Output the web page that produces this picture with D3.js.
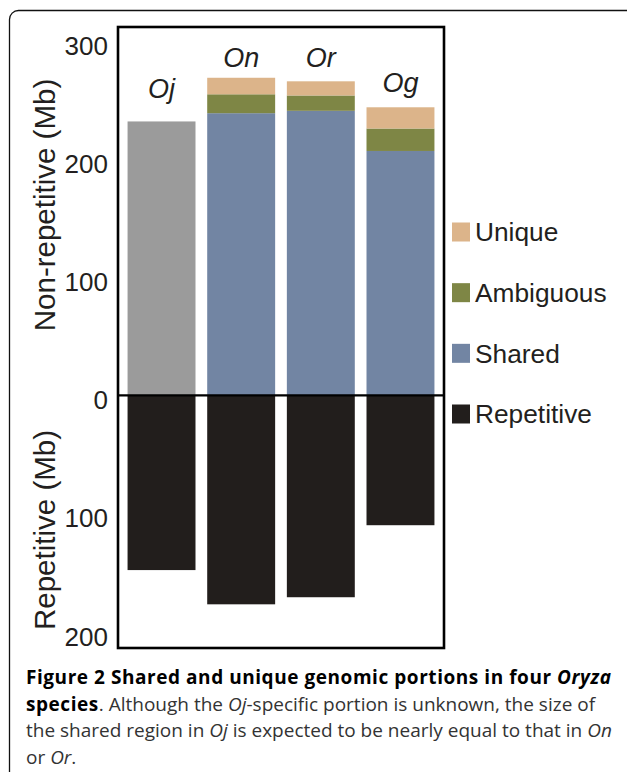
<!DOCTYPE html>
<html>
<head>
<meta charset="utf-8">
<script src="https://cdn.jsdelivr.net/npm/d3@7"></script>
<style>
  body { margin: 0; background: #fff; }
  svg { display: block; }
</style>
</head>
<body>
<div id="chart"></div>
<script>
// values (Mb)
const species = ["Oj", "On", "Or", "Og"];
const shared = [232, 239, 241, 207];      // Oj: total non-repetitive, split unknown
const ambiguous = [0, 16, 13, 19];
const unique = [0, 14, 12, 18];
const repetitive = [148, 177, 171, 110];
const labelAt = [252, 278, 278, 257];    // height of species label baseline
const upperTicks = [0, 100, 200, 300];
const lowerTicks = [100, 200];
const legendItems = ["Unique", "Ambiguous", "Shared", "Repetitive"];

const colors = {
    Unique: "#dcb48a",
    Ambiguous: "#7e8645",
    Shared: "#7285a3",
    Repetitive: "#221e1c",
    Unknown: "#9b9b9b"
};

const W = 627, H = 772;
const frame = { left: 118, right: 444, top: 27, bottom: 648 };

const svg = d3.select("#chart")
    .append("svg")
    .attr("width", W)
    .attr("height", H);

// outer figure border (rounded, runs off right/bottom)
svg.append("rect")
    .attr("x", 9.5).attr("y", 10.5)
    .attr("width", 640).attr("height", 800)
    .attr("rx", 9)
    .attr("fill", "none")
    .attr("stroke", "#111")
    .attr("stroke-width", 1.3);

const x = d3.scaleBand()
    .domain(species)
    .range([frame.left, frame.right])
    .paddingInner(0.147)
    .paddingOuter(0.12);

// one scale: positive up = non-repetitive, negative down = repetitive
const y = d3.scaleLinear()
    .domain([-214, 312])
    .range([frame.bottom, frame.top]);

const rows = species.map((s, i) => ({
    name: s,
    layers: [
        { key: i === 0 ? "Unknown" : "Shared", y0: 0, y1: shared[i] },
        { key: "Ambiguous", y0: shared[i], y1: shared[i] + ambiguous[i] },
        { key: "Unique", y0: shared[i] + ambiguous[i], y1: shared[i] + ambiguous[i] + unique[i] },
        { key: "Repetitive", y0: -repetitive[i], y1: 0 }
    ].filter(l => l.y1 > l.y0),
    label: labelAt[i]
}));

const groups = svg.selectAll(".bar")
    .data(rows)
    .join("g")
    .attr("class", "bar");

groups.selectAll("rect")
    .data(d => d.layers.map(l => ({ ...l, name: d.name })))
    .join("rect")
    .attr("x", d => x(d.name))
    .attr("width", x.bandwidth())
    .attr("y", d => y(d.y1))
    .attr("height", d => y(d.y0) - y(d.y1))
    .attr("fill", d => colors[d.key]);

// species labels
groups.append("text")
    .attr("x", d => x(d.name) + x.bandwidth() / 2)
    .attr("y", d => y(d.label))
    .attr("text-anchor", "middle")
    .attr("font-family", "'Liberation Sans', Arial, sans-serif")
    .attr("font-style", "italic")
    .attr("font-size", 27)
    .attr("fill", "#231f20")
    .text(d => d.name);

// frame and zero line
svg.append("rect")
    .attr("x", frame.left).attr("y", frame.top)
    .attr("width", frame.right - frame.left)
    .attr("height", frame.bottom - frame.top)
    .attr("fill", "none")
    .attr("stroke", "#000")
    .attr("stroke-width", 2.6);

svg.append("line")
    .attr("x1", frame.left).attr("x2", frame.right)
    .attr("y1", y(0)).attr("y2", y(0))
    .attr("stroke", "#000")
    .attr("stroke-width", 2.4);

// tick labels
const tickFont = "'Liberation Sans', Arial, sans-serif";
const tickVals = upperTicks.concat(lowerTicks.map(v => -v));
svg.selectAll(".tick")
    .data(tickVals)
    .join("text")
    .attr("class", "tick")
    .attr("x", 108)
    .attr("y", d => y(d))
    .attr("dy", "0.54em")
    .attr("text-anchor", "end")
    .attr("font-family", tickFont)
    .attr("font-size", 26)
    .attr("fill", "#231f20")
    .text(d => Math.abs(d));

// axis titles
const titles = [
    { text: "Non-repetitive (Mb)", mid: 205 },
    { text: "Repetitive (Mb)", mid: 530 }
];
svg.selectAll(".ytitle")
    .data(titles)
    .join("text")
    .attr("class", "ytitle")
    .attr("transform", d => `translate(55,${d.mid}) rotate(-90)`)
    .attr("text-anchor", "middle")
    .attr("font-family", tickFont)
    .attr("font-size", 29.5)
    .attr("fill", "#231f20")
    .text(d => d.text);

// legend
const legendY = d3.scalePoint()
    .domain(legendItems)
    .range([232, 414]);

const legend = svg.selectAll(".legend")
    .data(legendItems)
    .join("g")
    .attr("class", "legend")
    .attr("transform", d => `translate(452,${legendY(d)})`);

legend.append("rect")
    .attr("x", 0).attr("y", -9.5)
    .attr("width", 18).attr("height", 19)
    .attr("fill", d => colors[d]);

legend.append("text")
    .attr("x", 23)
    .attr("y", 0)
    .attr("dy", "0.36em")
    .attr("font-family", tickFont)
    .attr("font-size", 26.3)
    .attr("fill", "#231f20")
    .text(d => d);

// caption
const captionLines = [
    [["Figure 2 Shared and unique genomic portions in four ", "b"], ["Oryza", "bi"]],
    [["species", "b"], [". Although the ", ""], ["Oj", "i"], ["-specific portion is unknown, the size of", ""]],
    [["the shared region in ", ""], ["Oj", "i"], [" is expected to be nearly equal to that in ", ""], ["On", "i"]],
    [["or ", ""], ["Or", "i"], [".", ""]]
];

const caption = svg.append("text")
    .attr("font-family", "'Open Sans', 'Noto Sans', sans-serif")
    .attr("font-size", 19)
    .attr("fill", "#333");

captionLines.forEach((line, li) => {
    line.forEach((seg, si) => {
        const t = caption.append("tspan").text(seg[0]);
        if (si === 0) t.attr("x", 26).attr("y", 684 + li * 26.5);
        if (seg[1].includes("b")) t.attr("font-weight", "bold").attr("fill", "#000").attr("letter-spacing", 0.55);
        if (seg[1].includes("i")) t.attr("font-style", "italic");
    });
});
</script>
</body>
</html>
